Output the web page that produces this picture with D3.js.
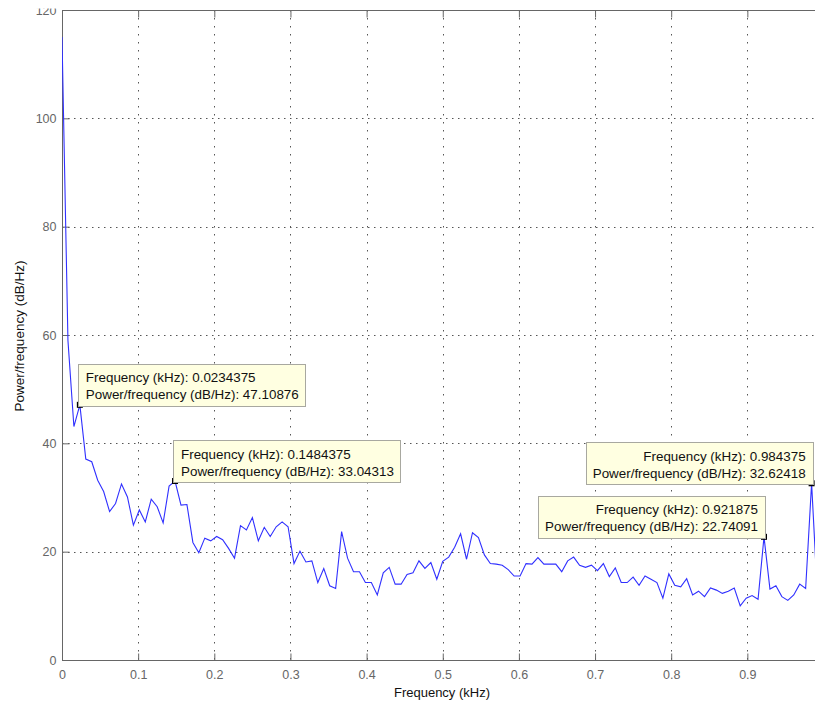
<!DOCTYPE html>
<html>
<head>
<meta charset="utf-8">
<script src="https://cdn.jsdelivr.net/npm/d3@7/dist/d3.min.js"></script>
<style>
  html, body { margin: 0; padding: 0; background: #fff; }
  svg { display: block; }
  text { font-family: "Liberation Sans", Arial, sans-serif; }
</style>
</head>
<body>
<svg id="chart" width="815" height="706"></svg>
<script>
// ---- data ----
const binWidth = 1 / 128; // kHz per frequency bin
const power = [
  115, 59, 43.1, 47.10876, 37.1, 36.6, 33.2, 31.1, 27.4, 28.9,
  32.5, 30.1, 24.9, 27.7, 25.5, 29.7, 28.3, 25.3, 32.1, 33.04313,
  28.6, 28.7, 21.7, 19.8, 22.5, 22.0, 22.8, 22.2, 20.6, 18.8,
  24.8, 24.0, 26.3, 22.0, 24.5, 22.8, 24.6, 25.5, 24.6, 17.8,
  20.1, 18.1, 18.3, 14.3, 16.9, 13.7, 13.2, 23.7, 18.8, 16.3,
  16.3, 14.3, 14.3, 12.0, 16.1, 17.1, 14.0, 14.0, 15.8, 16.1,
  18.3, 16.9, 18.0, 14.9, 18.2, 19.0, 20.8, 23.3, 18.6, 23.5,
  22.6, 19.4, 17.8, 17.7, 17.5, 16.7, 15.5, 15.5, 17.8, 17.7,
  18.9, 17.7, 17.7, 17.7, 16.3, 18.3, 19.0, 17.5, 17.1, 17.5,
  16.5, 17.8, 15.4, 17.0, 14.3, 14.3, 15.3, 13.8, 15.5, 14.9,
  14.3, 11.4, 15.9, 13.8, 13.5, 15.0, 12.0, 12.7, 11.7, 13.3,
  12.9, 12.3, 12.7, 13.3, 10.0, 11.4, 11.9, 11.2, 22.74091, 13.1,
  13.7, 11.7, 11.0, 12.0, 14.0, 13.2, 32.62418, 11.5
];
const xTicks = [0, 0.1, 0.2, 0.3, 0.4, 0.5, 0.6, 0.7, 0.8, 0.9];
const yTicks = [0, 20, 40, 60, 80, 100, 120];
const tipIndex = [3, 19, 118, 126];
const tipFreqLabel = ["0.0234375", "0.1484375", "0.921875", "0.984375"];
const tipPowerLabel = ["47.10876", "33.04313", "22.74091", "32.62418"];
const tipSide = ["right", "right", "left", "left"];

const data = power.map((v, i) => ({ f: i * binWidth, p: v }));

// ---- layout ----
const svg = d3.select("#chart");
const W = 815, H = 706;
const mLeft = 62, mTop = 10, mBottom = 660, mRight = 815;

const x = d3.scaleLinear().domain([0, 1]).range([mLeft, mLeft + 761.5]);
const y = d3.scaleLinear().domain([0, 120]).range([mBottom, mTop]);

svg.append("rect").attr("width", W).attr("height", H).attr("fill", "#fff");

svg.append("defs").append("clipPath").attr("id", "plotclip")
  .append("rect").attr("x", mLeft).attr("y", mTop - 2)
  .attr("width", mRight - mLeft).attr("height", mBottom - mTop + 4);

// grid
const grid = svg.append("g");
grid.selectAll("line.vg").data(xTicks.filter(d => d > 0)).join("line")
  .attr("class", "vg")
  .attr("x1", d => Math.round(x(d)) + 0.5).attr("x2", d => Math.round(x(d)) + 0.5)
  .attr("y1", mTop).attr("y2", mBottom)
  .attr("stroke", "#555").attr("stroke-width", 1)
  .attr("stroke-dasharray", "1.5,6.5");
grid.selectAll("line.hg").data(yTicks.filter(d => d > 0 && d < 120)).join("line")
  .attr("class", "hg")
  .attr("y1", d => Math.round(y(d)) + 0.5).attr("y2", d => Math.round(y(d)) + 0.5)
  .attr("x1", mLeft).attr("x2", mRight)
  .attr("stroke", "#555").attr("stroke-width", 1)
  .attr("stroke-dasharray", "1.5,4.5");

// axes (bottom, left, top box line)
const axisColor = "#666";
const xAxis = d3.axisBottom(x).tickValues(xTicks).tickSize(-7).tickPadding(10)
  .tickFormat(d => d === 0 ? "0" : d3.format(".1f")(d));
const gx = svg.append("g").attr("transform", `translate(0,${mBottom + 0.5})`).call(xAxis);
gx.select(".domain").attr("d", `M${mLeft},0H${mRight}`);

const yAxis = d3.axisLeft(y).tickValues(yTicks).tickSize(-7).tickPadding(6);
const gy = svg.append("g").attr("transform", `translate(${mLeft + 0.5},0)`).call(yAxis);
gy.select(".domain").attr("d", `M0,${mTop}V${mBottom}`);

[gx, gy].forEach(g => {
  g.select(".domain").attr("stroke", axisColor);
  g.selectAll(".tick line").attr("stroke", axisColor);
  g.selectAll(".tick text").attr("fill", "#666")
    .style("font-family", '"Liberation Sans", Arial, sans-serif')
    .style("font-size", "12.5px");
});

// the figure is cropped just above the top of the axes
svg.append("rect").attr("x", 0).attr("y", 0).attr("width", W).attr("height", 8.5).attr("fill", "#fff");

const xTop = d3.axisTop(x).tickValues(xTicks).tickSize(-7).tickFormat("");
const gxt = svg.append("g").attr("transform", `translate(0,${mTop + 0.5})`).call(xTop);
gxt.select(".domain").attr("d", `M${mLeft},0H${mRight}`).attr("stroke", axisColor);
gxt.selectAll(".tick line").attr("stroke", axisColor);

// axis labels
svg.append("text").attr("x", 442).attr("y", 697).attr("text-anchor", "middle")
  .attr("fill", "#111").style("font-size", "13px").text("Frequency (kHz)");
svg.append("text").attr("transform", "translate(24,336) rotate(-90)")
  .attr("text-anchor", "middle").attr("fill", "#111").style("font-size", "13.5px")
  .text("Power/frequency (dB/Hz)");

// line
const line = d3.line().x(d => x(d.f)).y(d => y(d.p));
svg.append("path").datum(data)
  .attr("clip-path", "url(#plotclip)")
  .attr("d", line).attr("fill", "none")
  .attr("stroke", "#3030ff").attr("stroke-width", 1.1);

// data tips
const tips = svg.append("g");
tipIndex.forEach((k, i) => {
  const px = x(data[k].f), py = y(data[k].p);
  const g = tips.append("g");
  g.append("rect").attr("x", px - 3).attr("y", py - 3).attr("width", 6).attr("height", 6)
    .attr("fill", "#000");
  const box = g.append("rect").attr("fill", "#ffffe1").attr("stroke", "#a8a8a0").attr("stroke-width", 1);
  const l1 = g.append("text").style("font-size", "13.4px").attr("fill", "#111")
    .text("Frequency (kHz): " + tipFreqLabel[i]);
  const l2 = g.append("text").style("font-size", "13.4px").attr("fill", "#111")
    .text("Power/frequency (dB/Hz): " + tipPowerLabel[i]);
  const tw = Math.max(l1.node().getComputedTextLength(), l2.node().getComputedTextLength());
  const bw = tw + 14, bh = 42;
  const bx = tipSide[i] === "right" ? px - 2 : px - bw + 1;
  const by = py - bh + 1;
  box.attr("x", Math.round(bx) + 0.5).attr("y", Math.round(by) + 0.5)
    .attr("width", Math.round(bw)).attr("height", bh);
  if (tipSide[i] === "right") {
    l1.attr("x", bx + 8).attr("y", by + 18.5);
    l2.attr("x", bx + 8).attr("y", by + 35.5);
  } else {
    l1.attr("x", bx + bw - 7).attr("y", by + 18.5).attr("text-anchor", "end");
    l2.attr("x", bx + bw - 7).attr("y", by + 35.5).attr("text-anchor", "end");
  }
});
</script>
</body>
</html>
